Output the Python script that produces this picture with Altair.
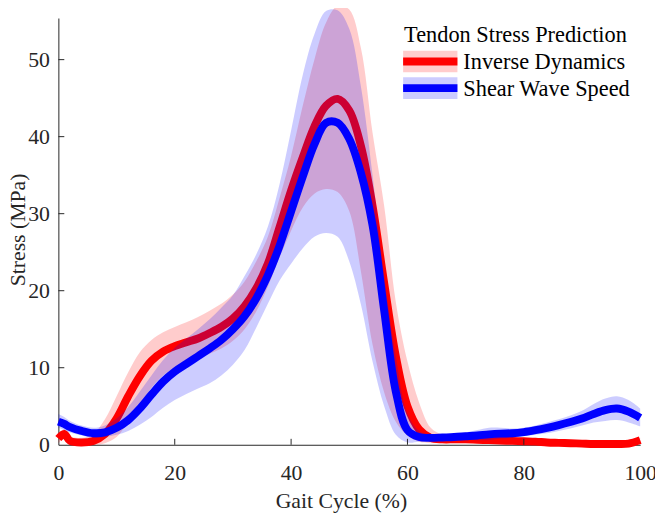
import altair as alt
import pandas as pd

# ---------------- data ----------------
GAIT = [0, 1, 2, 4, 6, 8, 10, 12, 14, 16, 18, 20, 22, 24, 26, 28, 30, 32, 34, 36, 38, 40,
        42, 44, 46, 48, 50, 52, 54, 56, 58, 60, 62, 64, 66, 68, 70, 72, 74, 76, 78, 80,
        82, 84, 86, 88, 90, 92, 94, 96, 98, 100]

# Inverse Dynamics
ID_MEAN = [0.8, 1.4, 0.5, 0.3, 0.5, 1.4, 3.4, 6.3, 8.9, 10.9, 12.1, 12.8, 13.3, 13.8, 14.5, 15.3,
           16.4, 18.0, 20.3, 23.5, 28.2, 33.0, 37.3, 41.3, 44.0, 44.9, 43.4, 38.8, 31.0, 21.0,
           11.5, 5.0, 2.0, 0.9, 0.7, 0.7, 0.7, 0.65, 0.6, 0.55, 0.5, 0.45, 0.4, 0.3, 0.25, 0.2,
           0.15, 0.1, 0.1, 0.1, 0.15, 0.6]
ID_HI = [1.4, 2.0, 1.1, 0.9, 1.4, 3.3, 6.3, 9.4, 12.0, 13.6, 14.6, 15.3, 15.9, 16.6, 17.4, 18.3,
         19.5, 21.2, 23.8, 27.0, 32.0, 37.5, 44.0, 50.0, 54.8, 57.0, 56.5, 51.5, 40.5, 31.0,
         18.5, 10.8, 5.5, 2.2, 1.3, 1.1, 1.05, 1.0, 0.95, 0.9, 0.85, 0.8, 0.7, 0.6, 0.55, 0.5,
         0.45, 0.4, 0.4, 0.4, 0.45, 0.9]
ID_LO = [0.2, 0.8, 0.1, 0.0, 0.0, 0.2, 1.0, 3.0, 5.2, 7.4, 9.0, 10.0, 10.7, 11.2, 11.8, 12.5,
         13.5, 15.0, 17.3, 20.5, 24.3, 27.8, 30.8, 32.6, 33.2, 32.8, 30.3, 22.5, 13.0, 6.8,
         3.0, 1.2, 0.4, 0.2, 0.2, 0.2, 0.2, 0.2, 0.2, 0.15, 0.1, 0.1, 0.1, 0.05, 0.0, 0.0,
         0.0, 0.0, 0.0, 0.0, 0.0, 0.3]

# Shear Wave Speed
SWS_MEAN = [3.0, 2.7, 2.3, 1.8, 1.5, 1.6, 2.2, 3.2, 4.7, 6.5, 8.2, 9.5, 10.5, 11.5, 12.5, 13.6,
            15.0, 16.7, 19.0, 22.0, 25.8, 30.3, 34.8, 39.0, 41.8, 41.8, 39.7, 35.3, 28.5, 17.4,
            6.9, 1.9, 1.0, 0.9, 0.95, 1.0, 1.1, 1.2, 1.35, 1.45, 1.5, 1.65, 1.9, 2.2, 2.55,
            2.95, 3.4, 4.0, 4.5, 4.7, 4.3, 3.5]
SWS_HI = [4.0, 3.6, 3.1, 2.5, 2.2, 2.5, 3.4, 4.9, 6.9, 9.0, 11.0, 12.6, 13.8, 15.0, 16.3, 17.8,
          19.4, 21.9, 24.7, 28.3, 33.8, 40.8, 48.0, 53.3, 56.3, 56.4, 54.0, 46.5, 35.0, 22.0,
          11.5, 4.0, 1.8, 1.3, 1.35, 1.45, 1.6, 1.9, 2.2, 2.2, 2.1, 2.2, 2.5, 2.9, 3.3, 3.8,
          4.4, 5.3, 6.0, 6.3, 5.8, 4.7]
SWS_LO = [2.2, 1.9, 1.6, 1.2, 0.9, 1.0, 1.3, 1.8, 2.6, 3.6, 4.8, 5.8, 6.6, 7.3, 8.0, 9.0,
          10.4, 12.3, 15.2, 18.3, 21.3, 23.5, 25.5, 27.0, 27.5, 27.0, 23.8, 18.2, 10.8, 5.0,
          1.3, 0.3, 0.4, 0.5, 0.55, 0.6, 0.65, 0.6, 0.6, 0.8, 0.9, 1.1, 1.3, 1.5, 1.8, 2.1,
          2.5, 2.9, 3.1, 3.2, 2.9, 2.4]

SERIES = ["Inverse Dynamics", "Shear Wave Speed"]
COLORS = ["#ff0000", "#0000ff"]
LEGEND_TITLE = "Tendon Stress Prediction"
X_TICKS = [0, 20, 40, 60, 80, 100]
Y_TICKS = [0, 10, 20, 30, 40, 50]

# ---------------- chart ----------------
W, H = 589, 432
FONT = "Liberation Serif"
AXC = "#262626"
INTERP = "catmull-rom"

xs = alt.Scale(domain=[0, 100], nice=False, zero=False)
ys = alt.Scale(domain=[0, 55.4], nice=False)

XAX = alt.Axis(values=X_TICKS, title="Gait Cycle (%)", ticks=False, grid=False,
               labelFlush=False, labelPadding=18, titleX=286, titleY=64,
               titleBaseline="alphabetic")
YAX = alt.Axis(values=Y_TICKS, title="Stress (MPa)", ticks=False, grid=False,
               labelFlush=False, labelPadding=9, titleX=-41, titleY=214,
               titleBaseline="middle")

df_id = pd.DataFrame({"x": GAIT, "mean": ID_MEAN, "lo": ID_LO, "hi": ID_HI})
df_sws = pd.DataFrame({"x": GAIT, "mean": SWS_MEAN, "lo": SWS_LO, "hi": SWS_HI})


def band(df, color):
    return alt.Chart(df).mark_area(interpolate=INTERP, color=color, opacity=0.2).encode(
        x=alt.X("x:Q", scale=xs, axis=XAX),
        y=alt.Y("lo:Q", scale=ys, axis=YAX),
        y2="hi:Q",
    )


def line(df, color):
    return alt.Chart(df).mark_line(interpolate=INTERP, color=color, strokeWidth=8).encode(
        x=alt.X("x:Q", scale=xs, axis=XAX),
        y=alt.Y("mean:Q", scale=ys, axis=YAX),
    )


xticks = alt.Chart(pd.DataFrame({"x": X_TICKS[1:-1]})).mark_rule(color=AXC, strokeWidth=1).encode(
    x=alt.X("x:Q", scale=xs, axis=XAX), y=alt.value(H), y2=alt.value(H - 6))
yticks = alt.Chart(pd.DataFrame({"lo": Y_TICKS[1:]})).mark_rule(color=AXC, strokeWidth=1).encode(
    y=alt.Y("lo:Q", scale=ys, axis=YAX), x=alt.value(0), x2=alt.value(6))


def legend_entry(label, color, yc):
    base = alt.Chart(alt.InlineData(values=[{"label": label}]))
    rect = base.mark_rect(color=color, opacity=0.2).encode(
        x=alt.value(349), x2=alt.value(404), y=alt.value(yc - 11), y2=alt.value(yc + 11))
    rule = base.mark_rule(color=color, strokeWidth=8).encode(
        x=alt.value(349), x2=alt.value(404), y=alt.value(yc))
    text = base.mark_text(align="left", baseline="alphabetic", font=FONT, fontSize=22.6,
                          color="#000000").encode(
        x=alt.value(410), y=alt.value(yc + 8), text="label:N")
    return [rect, rule, text]


legend_title = alt.Chart(alt.InlineData(values=[{"t": LEGEND_TITLE}])).mark_text(
    align="left", baseline="alphabetic", font=FONT, fontSize=22.6, color="#000000").encode(
    x=alt.value(350), y=alt.value(24), text="t:N")

layers = [band(df_id, COLORS[0]), line(df_id, COLORS[0]),
          band(df_sws, COLORS[1]), line(df_sws, COLORS[1]),
          xticks, yticks, legend_title]
layers += legend_entry(SERIES[0], COLORS[0], 44)
layers += legend_entry(SERIES[1], COLORS[1], 71)

chart = alt.layer(*layers).properties(
    width=W, height=H,
    autosize=alt.AutoSizeParams(type="none"),
    padding={"left": 51, "top": 7, "right": 15, "bottom": 72},
).configure_axis(
    labelFont=FONT, titleFont=FONT, labelFontSize=22, titleFontSize=22,
    labelColor=AXC, titleColor=AXC, titleFontWeight="normal",
    domainColor=AXC, domainWidth=1,
).configure_view(stroke=None)

chart.save("out.html", embed_options={"renderer": "svg", "actions": False})
